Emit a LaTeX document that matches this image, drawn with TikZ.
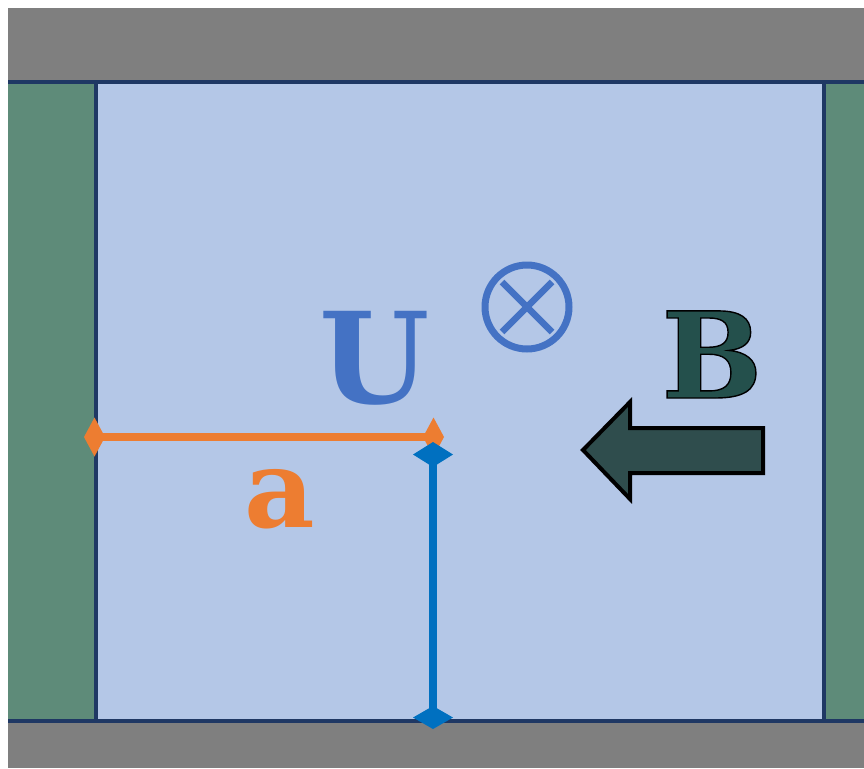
\documentclass[tikz,border=0pt]{standalone}
\usepackage{fontspec}
\newfontfamily\labfont{DejaVu Serif}
\usepackage{tikz}
\usetikzlibrary{arrows.meta}
\usepackage{xcolor}
\definecolor{wallgray}{RGB}{127,127,127}
\definecolor{sidegreen}{RGB}{94,139,121}
\definecolor{chanblue}{RGB}{180,199,231}
\definecolor{edgenavy}{RGB}{31,56,100}
\definecolor{lenorange}{RGB}{237,125,49}
\definecolor{hgtblue}{RGB}{0,112,192}
\definecolor{flowblue}{RGB}{68,114,196}
\definecolor{fieldteal}{RGB}{36,80,76}
\definecolor{arrowslate}{RGB}{47,77,77}
\newcommand{\outlinedtext}[1]{\special{pdf:literal 0 0 0 RG 0.8 w 2 Tr}#1\special{pdf:literal 0 Tr}}

\begin{document}
\begin{tikzpicture}[x=0.02cm, y=-0.02cm,
    wall/.style={fill=wallgray, draw=none},
    side/.style={fill=sidegreen, draw=none},
    edge/.style={draw=edgenavy, line width=0.065cm},
    biglab/.style={font=\labfont\bfseries, anchor=base, inner sep=0pt},
    dimlen/.style={draw=lenorange, line width=0.16cm, {Diamond[length=0.42cm, width=0.78cm]}-{Diamond[length=0.42cm, width=0.78cm]}},
    dimhgt/.style={draw=hgtblue, line width=0.16cm, {Diamond[length=0.5cm, width=0.8cm]}-{Diamond[length=0.46cm, width=0.8cm]}},
    barrow/.style={fill=arrowslate, draw=black, line width=0.08cm, line join=miter}
]
\useasboundingbox (0,0) rectangle (864,768);

% walls and channel
\fill[chanblue] (96,82) rectangle (824,721);
\path[wall] (8,8) rectangle (864,82);
\path[wall] (8,721) rectangle (864,768);
\path[side] (8,82) rectangle (96,721);
\path[side] (824,82) rectangle (864,721);
\draw[edge] (8,82) -- (864,82);
\draw[edge] (8,721) -- (864,721);
\draw[edge] (96,82) -- (96,721);
\draw[edge] (824,82) -- (824,721);

% labels
\node[biglab, font=\labfont\bfseries\fontsize{72}{80}\selectfont, text=flowblue] (U) at (375,403) {U};
\node[biglab, font=\labfont\bfseries\fontsize{62}{68}\selectfont, text=lenorange] (a) at (280,527) {a};
\node[biglab, font=\labfont\bfseries\fontsize{68}{76}\selectfont, text=fieldteal] (B) at (712,398) {\outlinedtext{B}};

% out-of-plane symbol
\node[circle, draw=flowblue, line width=0.14cm, minimum size=1.68cm, inner sep=0pt] (otimes) at (527,307) {};
\draw[flowblue, line width=0.13cm] (otimes.center) +(-25,-25) -- +(25,25);
\draw[flowblue, line width=0.13cm] (otimes.center) +(-25,25) -- +(25,-25);

% dimension lines
\coordinate (lenL) at (84,437);
\coordinate (lenR) at (444,437);
\coordinate (hgtT) at (433,442);
\coordinate (hgtB) at (433,729);
\draw[dimlen] (lenL) -- (lenR);
\draw[dimhgt] (hgtT) -- (hgtB);

% field arrow
\draw[barrow] (583,450) -- (630,402) -- (630,428) -- (763,428) -- (763,473) -- (630,473) -- (630,499) -- cycle;
\end{tikzpicture}
\end{document}
